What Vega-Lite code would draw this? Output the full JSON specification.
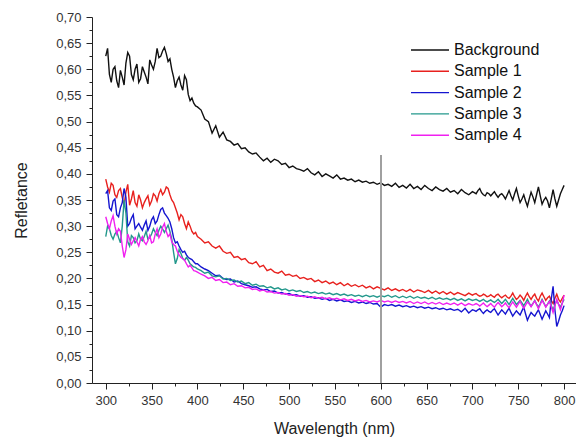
{
  "$schema": "https://vega.github.io/schema/vega-lite/v6.json",
  "width": 484,
  "height": 366,
  "autosize": "none",
  "padding": {"left": 92, "top": 17, "right": 0, "bottom": 56},
  "background": "white",
  "config": {
    "view": {"stroke": null},
    "font": "Liberation Sans",
    "axis": {"grid": false, "domainColor": "#222", "tickColor": "#222", "labelColor": "#333", "titleColor": "#222", "labelFont": "Liberation Sans", "titleFont": "Liberation Sans"}
  },
  "data": {
    "values": [
      {"w":300,"Background":0.625,"Sample 1":0.390,"Sample 2":0.362,"Sample 3":0.280,"Sample 4":0.318},
      {"w":304,"Background":0.590,"Sample 1":0.365,"Sample 2":0.335,"Sample 3":0.295,"Sample 4":0.295},
      {"w":308,"Background":0.600,"Sample 1":0.378,"Sample 2":0.348,"Sample 3":0.275,"Sample 4":0.320},
      {"w":312,"Background":0.578,"Sample 1":0.355,"Sample 2":0.322,"Sample 3":0.290,"Sample 4":0.285},
      {"w":316,"Background":0.598,"Sample 1":0.372,"Sample 2":0.335,"Sample 3":0.268,"Sample 4":0.290},
      {"w":320,"Background":0.570,"Sample 1":0.340,"Sample 2":0.372,"Sample 3":0.350,"Sample 4":0.240},
      {"w":324,"Background":0.632,"Sample 1":0.380,"Sample 2":0.300,"Sample 3":0.270,"Sample 4":0.285},
      {"w":328,"Background":0.590,"Sample 1":0.352,"Sample 2":0.315,"Sample 3":0.282,"Sample 4":0.265},
      {"w":332,"Background":0.600,"Sample 1":0.345,"Sample 2":0.295,"Sample 3":0.268,"Sample 4":0.278},
      {"w":336,"Background":0.575,"Sample 1":0.360,"Sample 2":0.305,"Sample 3":0.285,"Sample 4":0.262},
      {"w":340,"Background":0.605,"Sample 1":0.335,"Sample 2":0.292,"Sample 3":0.272,"Sample 4":0.280},
      {"w":344,"Background":0.585,"Sample 1":0.352,"Sample 2":0.310,"Sample 3":0.290,"Sample 4":0.265},
      {"w":348,"Background":0.618,"Sample 1":0.340,"Sample 2":0.300,"Sample 3":0.278,"Sample 4":0.282},
      {"w":352,"Background":0.600,"Sample 1":0.362,"Sample 2":0.318,"Sample 3":0.295,"Sample 4":0.270},
      {"w":356,"Background":0.640,"Sample 1":0.348,"Sample 2":0.310,"Sample 3":0.282,"Sample 4":0.295},
      {"w":360,"Background":0.625,"Sample 1":0.370,"Sample 2":0.332,"Sample 3":0.300,"Sample 4":0.285},
      {"w":364,"Background":0.642,"Sample 1":0.365,"Sample 2":0.325,"Sample 3":0.288,"Sample 4":0.305},
      {"w":368,"Background":0.615,"Sample 1":0.372,"Sample 2":0.315,"Sample 3":0.302,"Sample 4":0.280},
      {"w":372,"Background":0.600,"Sample 1":0.350,"Sample 2":0.295,"Sample 3":0.275,"Sample 4":0.270},
      {"w":376,"Background":0.565,"Sample 1":0.335,"Sample 2":0.268,"Sample 3":0.228,"Sample 4":0.262},
      {"w":380,"Background":0.585,"Sample 1":0.312,"Sample 2":0.262,"Sample 3":0.255,"Sample 4":0.245},
      {"w":384,"Background":0.560,"Sample 1":0.318,"Sample 2":0.250,"Sample 3":0.238,"Sample 4":0.238},
      {"w":388,"Background":0.580,"Sample 1":0.295,"Sample 2":0.245,"Sample 3":0.240,"Sample 4":0.228},
      {"w":392,"Background":0.540,"Sample 1":0.300,"Sample 2":0.238,"Sample 3":0.228,"Sample 4":0.225},
      {"w":396,"Background":0.535,"Sample 1":0.285,"Sample 2":0.232,"Sample 3":0.222,"Sample 4":0.215},
      {"w":400,"Background":0.528,"Sample 1":0.280,"Sample 2":0.228,"Sample 3":0.218,"Sample 4":0.212},
      {"w":404,"Background":0.522,"Sample 1":0.275,"Sample 2":0.222,"Sample 3":0.215,"Sample 4":0.208},
      {"w":408,"Background":0.505,"Sample 1":0.268,"Sample 2":0.218,"Sample 3":0.210,"Sample 4":0.205},
      {"w":412,"Background":0.500,"Sample 1":0.270,"Sample 2":0.215,"Sample 3":0.212,"Sample 4":0.200},
      {"w":416,"Background":0.478,"Sample 1":0.262,"Sample 2":0.210,"Sample 3":0.205,"Sample 4":0.202},
      {"w":420,"Background":0.492,"Sample 1":0.258,"Sample 2":0.205,"Sample 3":0.203,"Sample 4":0.196},
      {"w":424,"Background":0.470,"Sample 1":0.262,"Sample 2":0.206,"Sample 3":0.205,"Sample 4":0.198},
      {"w":428,"Background":0.480,"Sample 1":0.252,"Sample 2":0.200,"Sample 3":0.199,"Sample 4":0.192},
      {"w":432,"Background":0.465,"Sample 1":0.248,"Sample 2":0.198,"Sample 3":0.200,"Sample 4":0.193},
      {"w":436,"Background":0.462,"Sample 1":0.250,"Sample 2":0.199,"Sample 3":0.196,"Sample 4":0.188},
      {"w":440,"Background":0.455,"Sample 1":0.240,"Sample 2":0.193,"Sample 3":0.197,"Sample 4":0.190},
      {"w":444,"Background":0.458,"Sample 1":0.242,"Sample 2":0.195,"Sample 3":0.193,"Sample 4":0.185},
      {"w":448,"Background":0.448,"Sample 1":0.236,"Sample 2":0.190,"Sample 3":0.195,"Sample 4":0.186},
      {"w":452,"Background":0.450,"Sample 1":0.238,"Sample 2":0.188,"Sample 3":0.190,"Sample 4":0.182},
      {"w":456,"Background":0.442,"Sample 1":0.230,"Sample 2":0.186,"Sample 3":0.192,"Sample 4":0.183},
      {"w":460,"Background":0.438,"Sample 1":0.228,"Sample 2":0.183,"Sample 3":0.187,"Sample 4":0.179},
      {"w":464,"Background":0.440,"Sample 1":0.232,"Sample 2":0.184,"Sample 3":0.189,"Sample 4":0.180},
      {"w":468,"Background":0.432,"Sample 1":0.222,"Sample 2":0.180,"Sample 3":0.185,"Sample 4":0.176},
      {"w":472,"Background":0.425,"Sample 1":0.225,"Sample 2":0.178,"Sample 3":0.186,"Sample 4":0.178},
      {"w":476,"Background":0.430,"Sample 1":0.215,"Sample 2":0.179,"Sample 3":0.182,"Sample 4":0.174},
      {"w":480,"Background":0.422,"Sample 1":0.218,"Sample 2":0.175,"Sample 3":0.184,"Sample 4":0.175},
      {"w":484,"Background":0.428,"Sample 1":0.212,"Sample 2":0.176,"Sample 3":0.180,"Sample 4":0.172},
      {"w":488,"Background":0.425,"Sample 1":0.210,"Sample 2":0.172,"Sample 3":0.182,"Sample 4":0.173},
      {"w":492,"Background":0.418,"Sample 1":0.214,"Sample 2":0.173,"Sample 3":0.178,"Sample 4":0.170},
      {"w":496,"Background":0.420,"Sample 1":0.206,"Sample 2":0.170,"Sample 3":0.180,"Sample 4":0.171},
      {"w":500,"Background":0.412,"Sample 1":0.208,"Sample 2":0.171,"Sample 3":0.176,"Sample 4":0.168},
      {"w":504,"Background":0.415,"Sample 1":0.204,"Sample 2":0.168,"Sample 3":0.178,"Sample 4":0.169},
      {"w":508,"Background":0.410,"Sample 1":0.206,"Sample 2":0.169,"Sample 3":0.175,"Sample 4":0.166},
      {"w":512,"Background":0.408,"Sample 1":0.200,"Sample 2":0.166,"Sample 3":0.177,"Sample 4":0.167},
      {"w":516,"Background":0.405,"Sample 1":0.202,"Sample 2":0.167,"Sample 3":0.173,"Sample 4":0.165},
      {"w":520,"Background":0.410,"Sample 1":0.198,"Sample 2":0.164,"Sample 3":0.175,"Sample 4":0.166},
      {"w":524,"Background":0.402,"Sample 1":0.200,"Sample 2":0.165,"Sample 3":0.172,"Sample 4":0.163},
      {"w":528,"Background":0.398,"Sample 1":0.194,"Sample 2":0.162,"Sample 3":0.174,"Sample 4":0.165},
      {"w":532,"Background":0.404,"Sample 1":0.197,"Sample 2":0.163,"Sample 3":0.171,"Sample 4":0.162},
      {"w":536,"Background":0.395,"Sample 1":0.192,"Sample 2":0.160,"Sample 3":0.173,"Sample 4":0.164},
      {"w":540,"Background":0.400,"Sample 1":0.195,"Sample 2":0.162,"Sample 3":0.170,"Sample 4":0.161},
      {"w":544,"Background":0.396,"Sample 1":0.190,"Sample 2":0.158,"Sample 3":0.172,"Sample 4":0.163},
      {"w":548,"Background":0.392,"Sample 1":0.193,"Sample 2":0.160,"Sample 3":0.169,"Sample 4":0.160},
      {"w":552,"Background":0.398,"Sample 1":0.188,"Sample 2":0.157,"Sample 3":0.171,"Sample 4":0.162},
      {"w":556,"Background":0.390,"Sample 1":0.192,"Sample 2":0.159,"Sample 3":0.168,"Sample 4":0.159},
      {"w":560,"Background":0.392,"Sample 1":0.186,"Sample 2":0.156,"Sample 3":0.170,"Sample 4":0.161},
      {"w":564,"Background":0.388,"Sample 1":0.190,"Sample 2":0.157,"Sample 3":0.167,"Sample 4":0.158},
      {"w":568,"Background":0.390,"Sample 1":0.185,"Sample 2":0.154,"Sample 3":0.169,"Sample 4":0.160},
      {"w":572,"Background":0.385,"Sample 1":0.188,"Sample 2":0.156,"Sample 3":0.166,"Sample 4":0.157},
      {"w":576,"Background":0.388,"Sample 1":0.184,"Sample 2":0.153,"Sample 3":0.168,"Sample 4":0.159},
      {"w":580,"Background":0.384,"Sample 1":0.187,"Sample 2":0.155,"Sample 3":0.165,"Sample 4":0.156},
      {"w":584,"Background":0.386,"Sample 1":0.182,"Sample 2":0.152,"Sample 3":0.168,"Sample 4":0.158},
      {"w":588,"Background":0.382,"Sample 1":0.185,"Sample 2":0.154,"Sample 3":0.165,"Sample 4":0.155},
      {"w":592,"Background":0.384,"Sample 1":0.180,"Sample 2":0.151,"Sample 3":0.167,"Sample 4":0.157},
      {"w":596,"Background":0.380,"Sample 1":0.184,"Sample 2":0.152,"Sample 3":0.164,"Sample 4":0.155},
      {"w":600,"Background":0.383,"Sample 1":0.181,"Sample 2":0.145,"Sample 3":0.167,"Sample 4":0.158},
      {"w":604,"Background":0.378,"Sample 1":0.178,"Sample 2":0.150,"Sample 3":0.165,"Sample 4":0.155},
      {"w":608,"Background":0.380,"Sample 1":0.182,"Sample 2":0.148,"Sample 3":0.168,"Sample 4":0.157},
      {"w":612,"Background":0.376,"Sample 1":0.177,"Sample 2":0.150,"Sample 3":0.164,"Sample 4":0.154},
      {"w":616,"Background":0.382,"Sample 1":0.180,"Sample 2":0.147,"Sample 3":0.167,"Sample 4":0.157},
      {"w":620,"Background":0.374,"Sample 1":0.176,"Sample 2":0.149,"Sample 3":0.163,"Sample 4":0.154},
      {"w":624,"Background":0.378,"Sample 1":0.179,"Sample 2":0.146,"Sample 3":0.166,"Sample 4":0.156},
      {"w":628,"Background":0.373,"Sample 1":0.175,"Sample 2":0.148,"Sample 3":0.163,"Sample 4":0.153},
      {"w":632,"Background":0.380,"Sample 1":0.179,"Sample 2":0.145,"Sample 3":0.166,"Sample 4":0.156},
      {"w":636,"Background":0.372,"Sample 1":0.174,"Sample 2":0.147,"Sample 3":0.162,"Sample 4":0.152},
      {"w":640,"Background":0.376,"Sample 1":0.178,"Sample 2":0.144,"Sample 3":0.165,"Sample 4":0.155},
      {"w":644,"Background":0.370,"Sample 1":0.176,"Sample 2":0.146,"Sample 3":0.162,"Sample 4":0.152},
      {"w":648,"Background":0.378,"Sample 1":0.173,"Sample 2":0.143,"Sample 3":0.164,"Sample 4":0.155},
      {"w":652,"Background":0.372,"Sample 1":0.177,"Sample 2":0.145,"Sample 3":0.161,"Sample 4":0.151},
      {"w":656,"Background":0.368,"Sample 1":0.172,"Sample 2":0.142,"Sample 3":0.164,"Sample 4":0.154},
      {"w":660,"Background":0.375,"Sample 1":0.176,"Sample 2":0.144,"Sample 3":0.160,"Sample 4":0.151},
      {"w":664,"Background":0.370,"Sample 1":0.171,"Sample 2":0.141,"Sample 3":0.163,"Sample 4":0.154},
      {"w":668,"Background":0.367,"Sample 1":0.175,"Sample 2":0.143,"Sample 3":0.160,"Sample 4":0.150},
      {"w":672,"Background":0.372,"Sample 1":0.170,"Sample 2":0.140,"Sample 3":0.162,"Sample 4":0.153},
      {"w":676,"Background":0.365,"Sample 1":0.174,"Sample 2":0.142,"Sample 3":0.159,"Sample 4":0.150},
      {"w":680,"Background":0.368,"Sample 1":0.169,"Sample 2":0.139,"Sample 3":0.162,"Sample 4":0.153},
      {"w":684,"Background":0.362,"Sample 1":0.173,"Sample 2":0.141,"Sample 3":0.158,"Sample 4":0.149},
      {"w":688,"Background":0.370,"Sample 1":0.170,"Sample 2":0.136,"Sample 3":0.161,"Sample 4":0.153},
      {"w":692,"Background":0.364,"Sample 1":0.167,"Sample 2":0.143,"Sample 3":0.157,"Sample 4":0.148},
      {"w":696,"Background":0.360,"Sample 1":0.172,"Sample 2":0.134,"Sample 3":0.161,"Sample 4":0.152},
      {"w":700,"Background":0.366,"Sample 1":0.168,"Sample 2":0.140,"Sample 3":0.158,"Sample 4":0.149},
      {"w":704,"Background":0.362,"Sample 1":0.171,"Sample 2":0.137,"Sample 3":0.160,"Sample 4":0.152},
      {"w":708,"Background":0.372,"Sample 1":0.166,"Sample 2":0.142,"Sample 3":0.156,"Sample 4":0.147},
      {"w":712,"Background":0.360,"Sample 1":0.170,"Sample 2":0.133,"Sample 3":0.160,"Sample 4":0.153},
      {"w":716,"Background":0.364,"Sample 1":0.165,"Sample 2":0.140,"Sample 3":0.155,"Sample 4":0.146},
      {"w":720,"Background":0.358,"Sample 1":0.169,"Sample 2":0.135,"Sample 3":0.159,"Sample 4":0.152},
      {"w":724,"Background":0.366,"Sample 1":0.164,"Sample 2":0.142,"Sample 3":0.154,"Sample 4":0.145},
      {"w":728,"Background":0.355,"Sample 1":0.170,"Sample 2":0.130,"Sample 3":0.160,"Sample 4":0.154},
      {"w":732,"Background":0.362,"Sample 1":0.163,"Sample 2":0.140,"Sample 3":0.152,"Sample 4":0.146},
      {"w":736,"Background":0.352,"Sample 1":0.168,"Sample 2":0.132,"Sample 3":0.160,"Sample 4":0.153},
      {"w":740,"Background":0.368,"Sample 1":0.162,"Sample 2":0.143,"Sample 3":0.150,"Sample 4":0.144},
      {"w":744,"Background":0.350,"Sample 1":0.172,"Sample 2":0.128,"Sample 3":0.162,"Sample 4":0.155},
      {"w":748,"Background":0.372,"Sample 1":0.160,"Sample 2":0.138,"Sample 3":0.150,"Sample 4":0.145},
      {"w":752,"Background":0.345,"Sample 1":0.168,"Sample 2":0.130,"Sample 3":0.158,"Sample 4":0.156},
      {"w":756,"Background":0.360,"Sample 1":0.158,"Sample 2":0.145,"Sample 3":0.148,"Sample 4":0.143},
      {"w":760,"Background":0.338,"Sample 1":0.172,"Sample 2":0.120,"Sample 3":0.160,"Sample 4":0.155},
      {"w":764,"Background":0.365,"Sample 1":0.160,"Sample 2":0.135,"Sample 3":0.147,"Sample 4":0.146},
      {"w":768,"Background":0.345,"Sample 1":0.170,"Sample 2":0.128,"Sample 3":0.158,"Sample 4":0.157},
      {"w":772,"Background":0.375,"Sample 1":0.157,"Sample 2":0.140,"Sample 3":0.145,"Sample 4":0.142},
      {"w":776,"Background":0.342,"Sample 1":0.172,"Sample 2":0.122,"Sample 3":0.160,"Sample 4":0.158},
      {"w":780,"Background":0.355,"Sample 1":0.158,"Sample 2":0.138,"Sample 3":0.146,"Sample 4":0.145},
      {"w":784,"Background":0.335,"Sample 1":0.166,"Sample 2":0.125,"Sample 3":0.157,"Sample 4":0.156},
      {"w":788,"Background":0.370,"Sample 1":0.152,"Sample 2":0.185,"Sample 3":0.140,"Sample 4":0.135},
      {"w":792,"Background":0.338,"Sample 1":0.170,"Sample 2":0.108,"Sample 3":0.158,"Sample 4":0.160},
      {"w":796,"Background":0.362,"Sample 1":0.155,"Sample 2":0.130,"Sample 3":0.145,"Sample 4":0.140},
      {"w":800,"Background":0.378,"Sample 1":0.168,"Sample 2":0.148,"Sample 3":0.160,"Sample 4":0.168},
      {"w":302,"Background":0.640,"Sample 1":0.375,"Sample 2":0.368,"Sample 3":0.300,"Sample 4":0.305},
      {"w":306,"Background":0.575,"Sample 1":0.382,"Sample 2":0.330,"Sample 3":0.282,"Sample 4":0.310},
      {"w":310,"Background":0.605,"Sample 1":0.360,"Sample 2":0.352,"Sample 3":0.285,"Sample 4":0.300},
      {"w":314,"Background":0.565,"Sample 1":0.368,"Sample 2":0.318,"Sample 3":0.278,"Sample 4":0.295},
      {"w":318,"Background":0.585,"Sample 1":0.355,"Sample 2":0.345,"Sample 3":0.300,"Sample 4":0.262},
      {"w":322,"Background":0.612,"Sample 1":0.365,"Sample 2":0.355,"Sample 3":0.325,"Sample 4":0.255},
      {"w":326,"Background":0.625,"Sample 1":0.340,"Sample 2":0.305,"Sample 3":0.262,"Sample 4":0.275},
      {"w":330,"Background":0.580,"Sample 1":0.368,"Sample 2":0.322,"Sample 3":0.278,"Sample 4":0.272},
      {"w":334,"Background":0.610,"Sample 1":0.338,"Sample 2":0.300,"Sample 3":0.272,"Sample 4":0.270},
      {"w":338,"Background":0.582,"Sample 1":0.350,"Sample 2":0.298,"Sample 3":0.275,"Sample 4":0.275},
      {"w":342,"Background":0.595,"Sample 1":0.345,"Sample 2":0.302,"Sample 3":0.280,"Sample 4":0.270},
      {"w":346,"Background":0.572,"Sample 1":0.358,"Sample 2":0.292,"Sample 3":0.275,"Sample 4":0.272},
      {"w":350,"Background":0.608,"Sample 1":0.348,"Sample 2":0.312,"Sample 3":0.285,"Sample 4":0.268},
      {"w":354,"Background":0.615,"Sample 1":0.358,"Sample 2":0.305,"Sample 3":0.288,"Sample 4":0.285},
      {"w":358,"Background":0.622,"Sample 1":0.362,"Sample 2":0.322,"Sample 3":0.292,"Sample 4":0.278},
      {"w":362,"Background":0.635,"Sample 1":0.360,"Sample 2":0.335,"Sample 3":0.295,"Sample 4":0.298},
      {"w":366,"Background":0.630,"Sample 1":0.375,"Sample 2":0.320,"Sample 3":0.295,"Sample 4":0.290},
      {"w":370,"Background":0.620,"Sample 1":0.360,"Sample 2":0.308,"Sample 3":0.290,"Sample 4":0.285},
      {"w":374,"Background":0.585,"Sample 1":0.345,"Sample 2":0.278,"Sample 3":0.250,"Sample 4":0.265},
      {"w":378,"Background":0.578,"Sample 1":0.325,"Sample 2":0.270,"Sample 3":0.238,"Sample 4":0.252},
      {"w":382,"Background":0.570,"Sample 1":0.322,"Sample 2":0.255,"Sample 3":0.248,"Sample 4":0.240},
      {"w":386,"Background":0.588,"Sample 1":0.305,"Sample 2":0.252,"Sample 3":0.235,"Sample 4":0.235},
      {"w":390,"Background":0.552,"Sample 1":0.308,"Sample 2":0.240,"Sample 3":0.235,"Sample 4":0.222},
      {"w":394,"Background":0.545,"Sample 1":0.290,"Sample 2":0.236,"Sample 3":0.225,"Sample 4":0.220},
      {"w":398,"Background":0.530,"Sample 1":0.288,"Sample 2":0.228,"Sample 3":0.221,"Sample 4":0.214},
      {"w":702,"Background":0.364,"Sample 1":0.170,"Sample 2":0.139,"Sample 3":0.159,"Sample 4":0.150},
      {"w":706,"Background":0.368,"Sample 1":0.168,"Sample 2":0.140,"Sample 3":0.158,"Sample 4":0.150},
      {"w":710,"Background":0.364,"Sample 1":0.167,"Sample 2":0.137,"Sample 3":0.158,"Sample 4":0.150},
      {"w":714,"Background":0.358,"Sample 1":0.168,"Sample 2":0.137,"Sample 3":0.157,"Sample 4":0.149},
      {"w":718,"Background":0.362,"Sample 1":0.166,"Sample 2":0.137,"Sample 3":0.157,"Sample 4":0.149},
      {"w":722,"Background":0.362,"Sample 1":0.166,"Sample 2":0.139,"Sample 3":0.156,"Sample 4":0.148},
      {"w":726,"Background":0.360,"Sample 1":0.168,"Sample 2":0.136,"Sample 3":0.157,"Sample 4":0.150},
      {"w":730,"Background":0.360,"Sample 1":0.166,"Sample 2":0.135,"Sample 3":0.156,"Sample 4":0.150},
      {"w":734,"Background":0.358,"Sample 1":0.166,"Sample 2":0.136,"Sample 3":0.156,"Sample 4":0.149},
      {"w":738,"Background":0.360,"Sample 1":0.164,"Sample 2":0.138,"Sample 3":0.155,"Sample 4":0.148},
      {"w":742,"Background":0.358,"Sample 1":0.166,"Sample 2":0.135,"Sample 3":0.156,"Sample 4":0.150},
      {"w":746,"Background":0.362,"Sample 1":0.165,"Sample 2":0.133,"Sample 3":0.156,"Sample 4":0.150},
      {"w":750,"Background":0.358,"Sample 1":0.163,"Sample 2":0.134,"Sample 3":0.154,"Sample 4":0.151},
      {"w":754,"Background":0.352,"Sample 1":0.164,"Sample 2":0.138,"Sample 3":0.153,"Sample 4":0.149},
      {"w":758,"Background":0.348,"Sample 1":0.166,"Sample 2":0.132,"Sample 3":0.154,"Sample 4":0.149},
      {"w":762,"Background":0.352,"Sample 1":0.165,"Sample 2":0.128,"Sample 3":0.153,"Sample 4":0.151},
      {"w":766,"Background":0.356,"Sample 1":0.166,"Sample 2":0.131,"Sample 3":0.152,"Sample 4":0.152},
      {"w":770,"Background":0.360,"Sample 1":0.162,"Sample 2":0.134,"Sample 3":0.151,"Sample 4":0.150},
      {"w":774,"Background":0.358,"Sample 1":0.166,"Sample 2":0.131,"Sample 3":0.152,"Sample 4":0.150},
      {"w":778,"Background":0.350,"Sample 1":0.165,"Sample 2":0.130,"Sample 3":0.153,"Sample 4":0.152},
      {"w":782,"Background":0.348,"Sample 1":0.163,"Sample 2":0.132,"Sample 3":0.151,"Sample 4":0.151},
      {"w":786,"Background":0.352,"Sample 1":0.158,"Sample 2":0.160,"Sample 3":0.148,"Sample 4":0.146},
      {"w":790,"Background":0.352,"Sample 1":0.162,"Sample 2":0.140,"Sample 3":0.149,"Sample 4":0.148},
      {"w":794,"Background":0.350,"Sample 1":0.160,"Sample 2":0.118,"Sample 3":0.151,"Sample 4":0.150},
      {"w":798,"Background":0.370,"Sample 1":0.162,"Sample 2":0.138,"Sample 3":0.153,"Sample 4":0.152}
    ]
  },
  "layer": [
    {
      "transform": [
        {"fold": ["Background", "Sample 1", "Sample 2", "Sample 3", "Sample 4"], "as": ["series", "r"]}
      ],
      "mark": {"type": "line", "strokeWidth": 1.4, "interpolate": "linear"},
      "encoding": {
        "x": {
          "field": "w",
          "type": "quantitative",
          "sort": "ascending",
          "scale": {"domain": [285, 813], "nice": false, "zero": false},
          "axis": {
            "title": "Wavelength (nm)",
            "titleFontSize": 16,
            "titleFontWeight": "normal",
            "titlePadding": 13,
            "values": [300, 325, 350, 375, 400, 425, 450, 475, 500, 525, 550, 575, 600, 625, 650, 675, 700, 725, 750, 775, 800],
            "tickCount": 200,
            "labelExpr": "datum.value % 50 === 0 ? datum.label : ''",
            "format": "d",
            "labelFontSize": 13,
            "labelPadding": 5,
            "tickSize": {"condition": {"test": "datum.value % 50 === 0", "value": 6}, "value": 3},
            "labelFlush": false,
            "labelOverlap": false
          }
        },
        "y": {
          "field": "r",
          "type": "quantitative",
          "scale": {"domain": [0, 0.7], "nice": false},
          "axis": {
            "title": "Refletance",
            "titleFontSize": 16,
            "titleFontWeight": "normal",
            "titlePadding": 26,
            "values": [0, 0.025, 0.05, 0.075, 0.1, 0.125, 0.15, 0.175, 0.2, 0.225, 0.25, 0.275, 0.3, 0.325, 0.35, 0.375, 0.4, 0.425, 0.45, 0.475, 0.5, 0.525, 0.55, 0.575, 0.6, 0.625, 0.65, 0.675, 0.7],
            "tickCount": 200,
            "labelExpr": "round(datum.value * 1000) % 50 === 0 ? replace(format(datum.value, '.2f'), '.', ',') : ''",
            "labelFontSize": 13,
            "labelPadding": 5,
            "tickSize": {"condition": {"test": "round(datum.value * 1000) % 50 === 0", "value": 6}, "value": 3},
            "labelOverlap": false
          }
        },
        "color": {
          "field": "series",
          "type": "nominal",
          "scale": {
            "domain": ["Background", "Sample 1", "Sample 2", "Sample 3", "Sample 4"],
            "range": ["#111111", "#e8211e", "#1515d0", "#23988c", "#f020f0"]
          },
          "legend": {
            "title": null,
            "orient": "none",
            "legendX": 318,
            "legendY": 25,
            "symbolType": "stroke",
            "symbolSize": 1444,
            "symbolStrokeWidth": 1.4,
            "clipHeight": 16,
            "rowPadding": 5.3,
            "labelFontSize": 16,
            "labelColor": "#111",
            "labelOffset": 4,
            "labelFont": "Liberation Sans",
            "padding": 0
          }
        }
      }
    },
    {
      "mark": {"type": "rule", "color": "#a0a0a0", "strokeWidth": 1},
      "encoding": {
        "x": {"datum": 600, "type": "quantitative"},
        "y": {"datum": 0, "type": "quantitative"},
        "y2": {"datum": 0.436}
      }
    }
  ]
}
